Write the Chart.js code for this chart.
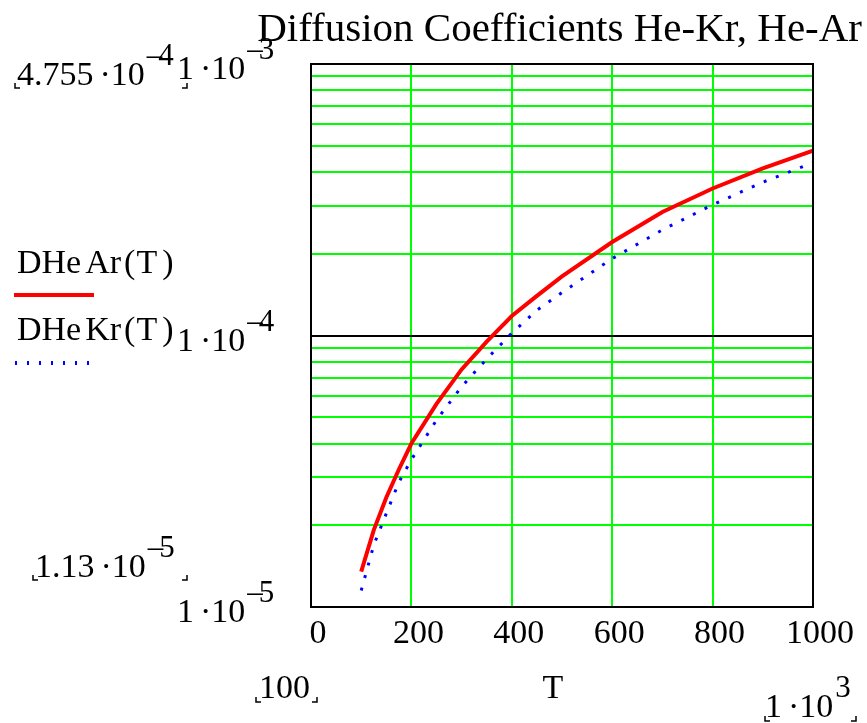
<!DOCTYPE html>
<html>
<head>
<meta charset="utf-8">
<script src="https://cdn.jsdelivr.net/npm/chart.js@4"></script>
<style>
  body { margin: 0; background: #fff; }
  #wrap { width: 867px; height: 723px; }
</style>
</head>
<body>
<div id="wrap"><canvas id="chart" width="867" height="723"></canvas></div>
<script>
// --- DATA ---
const temps = [100, 125, 150, 175, 200, 250, 300, 350, 400, 450, 500, 600, 700, 800, 900, 1000];
const dHeAr = [1.35e-5, 1.92e-5, 2.53e-5, 3.21e-5, 4.0e-5, 5.6e-5, 7.5e-5, 9.5e-5, 1.18e-4, 1.40e-4, 1.65e-4, 2.21e-4, 2.85e-4, 3.48e-4, 4.13e-4, 4.8e-4];
const dHeKr = [1.15e-5, 1.69e-5, 2.21e-5, 2.88e-5, 3.49e-5, 4.88e-5, 6.48e-5, 8.2e-5, 1.02e-4, 1.24e-4, 1.44e-4, 1.92e-4, 2.45e-4, 3.03e-4, 3.67e-4, 4.33e-4];

// axis ticks / grid
const xTicks = [0, 200, 400, 600, 800, 1000];
const yGrid = [1e-5, 2e-5, 3e-5, 4e-5, 5e-5, 6e-5, 7e-5, 8e-5, 9e-5,
               1e-4, 2e-4, 3e-4, 4e-4, 5e-4, 6e-4, 7e-4, 8e-4, 9e-4, 1e-3];
const yLabels = [[1e-3, '1', '3'], [1e-4, '1', '4'], [1e-5, '1', '5']];

const titleText = 'Diffusion Coefficients He-Kr, He-Ar';
const GREEN = '#00ff00';
const FONT = '"Liberation Serif", "Times New Roman", serif';

const toPoints = (ys) => temps.map((t, i) => ({ x: t, y: ys[i] }));

// draw "m·10^-e" style label
function drawSci(ctx, mant, exp, x, base, neg) {
    ctx.font = '34px ' + FONT;
    ctx.fillText(mant, x, base);
    let cx = x + ctx.measureText(mant).width + 6;
    ctx.fillText('·10', cx, base);
    cx += ctx.measureText('·10').width + 2;
    ctx.font = '31px ' + FONT;
    if (neg) {
        ctx.fillText('–', cx, base - 20);
        cx += ctx.measureText('–').width - 4;
    }
    ctx.fillText(exp, cx, base - 20);
}

// Mathcad spaces out names and brackets a bit
function drawFunc(ctx, name, x, base) {
    const head = name.slice(0, 3), tail = name.slice(3);
    ctx.font = '34px ' + FONT;
    ctx.fillText(head, x, base);
    let cx = x + ctx.measureText(head).width + 4;
    ctx.fillText(tail, cx, base);
    cx += ctx.measureText(tail).width + 3;
    ctx.fillText('(', cx, base);
    cx += ctx.measureText('(').width + 1;
    ctx.fillText('T', cx, base);
    cx += ctx.measureText('T').width + 5;
    ctx.fillText(')', cx, base);
}

// little corner brackets Mathcad puts round range entries
function corner(ctx, x, y, right) {
    ctx.beginPath();
    ctx.moveTo(x, y - 5);
    ctx.lineTo(x, y);
    ctx.lineTo(right ? x - 5 : x + 5, y);
    ctx.stroke();
}

const textPlugin = {
    id: 'mathcadText',
    afterDraw(chart) {
        const ctx = chart.ctx;
        const area = chart.chartArea;
        const xs = chart.scales.x, ys = chart.scales.y;
        ctx.save();

        // plot frame
        ctx.strokeStyle = '#000';
        ctx.lineWidth = 2;
        ctx.strokeRect(area.left, area.top, area.right - area.left, area.bottom - area.top);

        ctx.fillStyle = '#000';
        ctx.textBaseline = 'alphabetic';

        // title
        ctx.font = '41px ' + FONT;
        ctx.textAlign = 'right';
        ctx.fillText(titleText, 862, 41);

        // x tick labels
        ctx.font = '34px ' + FONT;
        ctx.textAlign = 'center';
        xTicks.forEach(v => ctx.fillText(String(v), xs.getPixelForValue(v) + 7, area.bottom + 36));
        ctx.fillText('T', 553, 698);

        // y tick labels
        ctx.textAlign = 'left';
        yLabels.forEach(([v, m, e]) => drawSci(ctx, m, e, 177, ys.getPixelForValue(v) + 15, true));

        // range entries
        ctx.lineWidth = 1.5;
        drawSci(ctx, '4.755', '4', 17, 85, true);
        corner(ctx, 15, 88, false); corner(ctx, 187, 88, true);
        drawSci(ctx, '1.13', '5', 35, 577, true);
        corner(ctx, 33, 580, false); corner(ctx, 187, 580, true);
        ctx.font = '34px ' + FONT;
        ctx.fillText('100', 259, 698);
        corner(ctx, 256, 702, false); corner(ctx, 317, 702, true);
        drawSci(ctx, '1', '3', 765, 717, false);
        corner(ctx, 765, 721, false); corner(ctx, 856, 721, true);

        // legend
        drawFunc(ctx, 'DHeAr', 17, 273);
        drawFunc(ctx, 'DHeKr', 17, 340);
        ctx.strokeStyle = '#ff0000';
        ctx.lineWidth = 4;
        ctx.beginPath(); ctx.moveTo(14, 295); ctx.lineTo(94, 295); ctx.stroke();
        ctx.strokeStyle = '#0000ff';
        ctx.setLineDash([2, 10]);
        ctx.beginPath(); ctx.moveTo(15, 363); ctx.lineTo(90, 363); ctx.stroke();
        ctx.restore();
    }
};

new Chart(document.getElementById('chart'), {
    type: 'line',
    data: {
        datasets: [{
            label: 'DHeAr(T)',
            data: toPoints(dHeAr),
            borderColor: '#ff0000',
            borderWidth: 4,
            pointRadius: 0,
            tension: 0
        }, {
            label: 'DHeKr(T)',
            data: toPoints(dHeKr),
            borderColor: '#0000ff',
            borderWidth: 3,
            borderDash: [3, 10],
            pointRadius: 0,
            tension: 0
        }]
    },
    options: {
        responsive: false,
        devicePixelRatio: 1,
        animation: false,
        layout: { padding: { left: 311, right: 54, top: 64, bottom: 116 } },
        plugins: { legend: { display: false }, tooltip: { enabled: false } },
        scales: {
            x: {
                type: 'linear', min: 0, max: 1000,
                afterBuildTicks: (s) => { s.ticks = xTicks.map(v => ({ value: v })); },
                ticks: { display: false },
                grid: { color: GREEN, lineWidth: 2, drawTicks: false },
                border: { display: false }
            },
            y: {
                type: 'logarithmic', min: 1e-5, max: 1e-3,
                afterBuildTicks: (s) => { s.ticks = yGrid.map(v => ({ value: v })); },
                ticks: { display: false },
                grid: {
                    color: (c) => (c.tick && c.tick.value === 1e-4) ? '#000' : GREEN,
                    lineWidth: 2, drawTicks: false
                },
                border: { display: false }
            }
        }
    },
    plugins: [textPlugin]
});
</script>
</body>
</html>
